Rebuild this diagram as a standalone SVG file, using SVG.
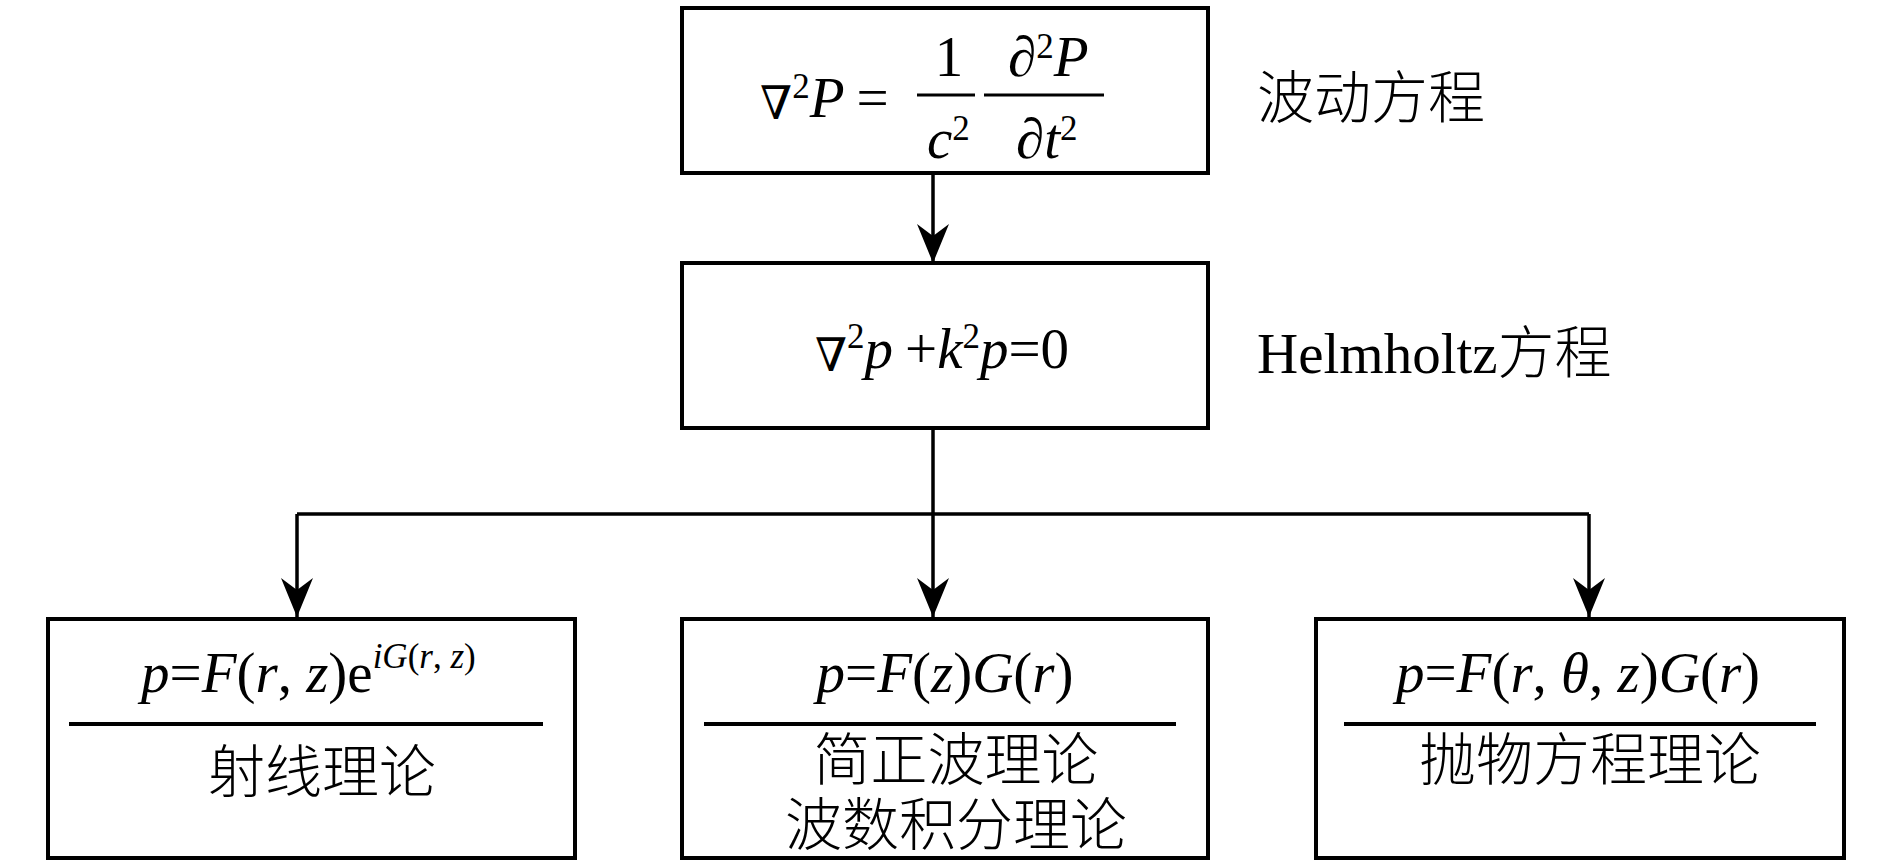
<svg xmlns="http://www.w3.org/2000/svg" width="1890" height="865" viewBox="0 0 1890 865">
<style>
.box{fill:#fff;stroke:#000;stroke-width:4}
.rule{stroke:#000;stroke-width:4}
.bar{stroke:#000;stroke-width:3}
.conn{fill:none;stroke:#000;stroke-width:3.5}
.t{font-family:"Liberation Serif","DejaVu Serif","Noto Sans CJK SC",serif;font-size:57px;fill:#000}
.i{font-style:italic}
.s{font-size:35px}
.nab{font-family:"DejaVu Serif",serif;font-size:46px}
.cn{font-family:"Noto Sans CJK SC","Noto Sans CJK TC",sans-serif;font-size:57px;font-weight:300;fill:#000}
</style>
<defs>
<marker id="arr" markerUnits="userSpaceOnUse" viewBox="-40 -17 41 34" markerWidth="41" markerHeight="34" refX="0" refY="0" orient="auto">
<path d="M0,0 L-39,-16 L-27,0 L-39,16 Z" fill="#000"/>
</marker>
</defs>
<rect width="1890" height="865" fill="#fff"/>

<g id="connectors">
<line class="conn" x1="933" y1="173" x2="933" y2="263" marker-end="url(#arr)"/>
<line class="conn" x1="933" y1="428" x2="933" y2="617" marker-end="url(#arr)"/>
<line class="conn" x1="297" y1="514" x2="1589" y2="514"/>
<line class="conn" x1="297" y1="514" x2="297" y2="617" marker-end="url(#arr)"/>
<line class="conn" x1="1589" y1="514" x2="1589" y2="617" marker-end="url(#arr)"/>
</g>

<g id="wave-eq">
<rect class="box" x="682" y="8" width="526" height="165"/>
<text class="t" x="760" y="119"><tspan class="nab">∇</tspan><tspan class="s" dy="-21">2</tspan><tspan class="i" dy="19">P</tspan><tspan dx="12">=</tspan></text>
<line class="bar" x1="917" y1="95" x2="975" y2="95"/>
<text class="t" x="949" y="76" text-anchor="middle">1</text>
<text class="t" x="927" y="158"><tspan class="i">c</tspan><tspan class="s" dy="-18">2</tspan></text>
<line class="bar" x1="984" y1="95" x2="1104" y2="95"/>
<text class="t" x="1008" y="76">∂<tspan class="s" dy="-18">2</tspan><tspan class="i" dy="18">P</tspan></text>
<text class="t" x="1016" y="158">∂<tspan class="i">t</tspan><tspan class="s" dy="-18">2</tspan></text>
</g>
<g id="wave-label">
<text class="cn" x="1257" y="118">波动方程</text>
</g>

<g id="helmholtz-eq">
<rect class="box" x="682" y="263" width="526" height="165"/>
<text class="t" x="942" y="368" text-anchor="middle"><tspan class="nab" dy="3">∇</tspan><tspan class="s" dy="-23">2</tspan><tspan class="i" dy="20">p</tspan><tspan dx="12">+</tspan><tspan class="i">k</tspan><tspan class="s" dy="-20">2</tspan><tspan class="i" dy="20">p</tspan>=0</text>
</g>
<g id="helmholtz-label">
<text x="1257" y="373"><tspan class="t">Helmholtz</tspan><tspan class="cn">方程</tspan></text>
</g>

<g id="ray-theory">
<rect class="box" x="48" y="619" width="527" height="239"/>
<text class="t" x="141" y="692"><tspan class="i">p</tspan>=<tspan class="i">F</tspan>(<tspan class="i">r</tspan>, <tspan class="i">z</tspan>)e<tspan class="s" dy="-24"><tspan class="i">iG</tspan>(<tspan class="i">r</tspan>, <tspan class="i">z</tspan>)</tspan></text>
<line class="rule" x1="69" y1="724" x2="543" y2="724"/>
<text class="cn" x="322" y="792" text-anchor="middle">射线理论</text>
</g>

<g id="normal-mode">
<rect class="box" x="682" y="619" width="526" height="239"/>
<text class="t" x="945" y="692" text-anchor="middle"><tspan class="i">p</tspan>=<tspan class="i">F</tspan>(<tspan class="i">z</tspan>)<tspan class="i">G</tspan>(<tspan class="i">r</tspan>)</text>
<line class="rule" x1="704" y1="724" x2="1176" y2="724"/>
<text class="cn" text-anchor="middle"><tspan x="956" y="780">简正波理论</tspan><tspan x="956" y="845">波数积分理论</tspan></text>
</g>

<g id="parabolic-eq">
<rect class="box" x="1316" y="619" width="528" height="239"/>
<text class="t" x="1578" y="692" text-anchor="middle"><tspan class="i">p</tspan>=<tspan class="i">F</tspan>(<tspan class="i">r</tspan>, <tspan class="i">θ</tspan>, <tspan class="i">z</tspan>)<tspan class="i">G</tspan>(<tspan class="i">r</tspan>)</text>
<line class="rule" x1="1344" y1="724" x2="1816" y2="724"/>
<text class="cn" x="1590" y="780" text-anchor="middle">抛物方程理论</text>
</g>
</svg>
